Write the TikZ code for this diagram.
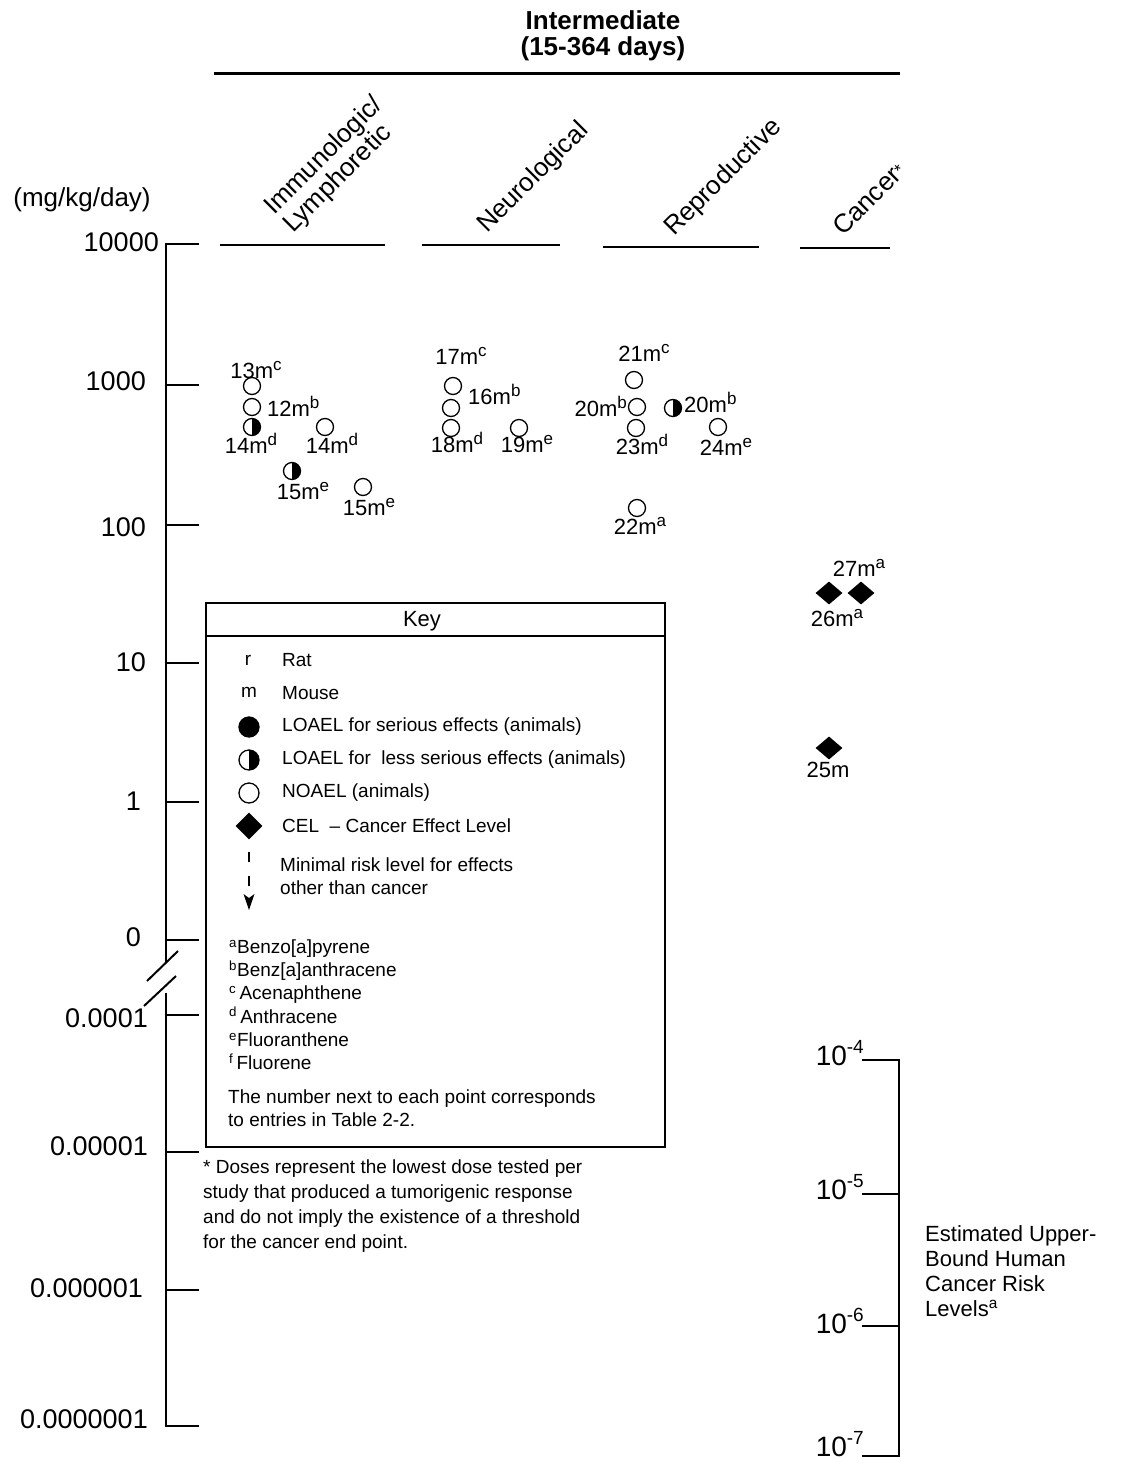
\documentclass[tikz,border=0pt]{standalone}
\usepackage{fontspec}
\setmainfont{Liberation Sans}
\usetikzlibrary{shapes.geometric}
\newcommand{\psup}[1]{\raisebox{8pt}{\fontsize{17}{17}\selectfont #1}}
\newcommand{\rsup}[1]{\raisebox{12pt}{\fontsize{19}{19}\selectfont #1}}
\begin{document}
\begin{tikzpicture}[x=1pt,y=-1pt,
  axisln/.style={line width=2.4pt},
  ticklab/.style={font=\fontsize{27}{30}\selectfont, anchor=east, inner sep=0pt},
  hdr/.style={font=\fontsize{26}{28}\selectfont, rotate=45, anchor=base west, inner sep=0pt},
  collin/.style={line width=2pt},
  ptlab/.style={font=\fontsize{22}{24}\selectfont, anchor=base, inner sep=0pt},
  noael/.style={circle, draw, fill=white, minimum size=17pt, inner sep=0pt, line width=1.3pt},
  loaelless/.style={noael, path picture={\fill[black] (path picture bounding box.south) rectangle (path picture bounding box.north east);}},
  loaelser/.style={noael, fill=black},
  cel/.style={diamond, fill=black, minimum width=27pt, minimum height=23pt, inner sep=0pt},
  keytxt/.style={font=\fontsize{19}{23}\selectfont, anchor=west, inner sep=0pt},
  risklab/.style={font=\fontsize{28}{30}\selectfont, anchor=base east, inner sep=0pt}
]
\useasboundingbox (0,0) rectangle (1137,1459);

% ---- title
\node[font=\bfseries\fontsize{26}{26}\selectfont, align=center] (title) at (603,36) {Intermediate\\(15-364 days)};
\coordinate (tl) at (214,73);
\coordinate (tr) at (900,73);
\draw[line width=3pt] (tl) -- (tr);

% ---- column headers
\node[hdr] (hImm1) at (274,216) {Immunologic/};
\node[hdr] (hImm2) at (293,234) {Lymphoretic};
\node[hdr] (hNeu) at (487,234) {Neurological};
\node[hdr] (hRep) at (674,237) {Reproductive};
\node[hdr] (hCan) at (843,237) {Cancer\raisebox{2pt}{\fontsize{17}{17}\selectfont *}};
\draw[collin] (220,245) -- (385,245);
\draw[collin] (422,245) -- (560,245);
\draw[collin] (603,247) -- (759,247);
\draw[collin] (800,248) -- (890,248);

% ---- left axis
\node[font=\fontsize{26}{30}\selectfont] (unit) at (82,200) {(mg/kg/day)};
\coordinate (axT) at (166,244);
\coordinate (axG1) at (166,962);
\coordinate (axG2) at (166,993);
\coordinate (axB) at (166,1426);
\draw[axisln] (axT) -- (axG1);
\draw[axisln] (axG2) -- (axB);
\foreach \yy in {244,385,525,663,802,940,1015,1152,1290,1426}
  \draw[axisln] (165,\yy) -- (199,\yy);
\draw[line width=2pt] (147,981) -- (178,951);
\draw[line width=2pt] (144,1006) -- (176,976);
\node[ticklab] (t1) at (159,242) {10000};
\node[ticklab] (t2) at (146,381) {1000};
\node[ticklab] (t3) at (146,527) {100};
\node[ticklab] (t4) at (146,662) {10};
\node[ticklab] (t5) at (141,801) {1};
\node[ticklab] (t6) at (141,937) {0};
\node[ticklab] (t7) at (148,1018) {0.0001};
\node[ticklab] (t8) at (148,1146) {0.00001};
\node[ticklab] (t9) at (143,1288) {0.000001};
\node[ticklab] (t10) at (148,1419) {0.0000001};

% ---- immunologic points
\node[noael] (c13) at (252,386) {};
\node[noael] (c12) at (252,407) {};
\node[loaelless] (h14) at (252,427) {};
\node[noael] (c14) at (325,427) {};
\node[loaelless] (h15) at (292,471) {};
\node[noael] (c15) at (363,487) {};
\node[ptlab] (l13) at (256,378) {13m\psup{c}};
\node[ptlab, anchor=base west] (l12) at (267,416) {12m\psup{b}};
\node[ptlab] (l14a) at (251,453) {14m\psup{d}};
\node[ptlab] (l14b) at (332,453) {14m\psup{d}};
\node[ptlab] (l15a) at (303,499) {15m\psup{e}};
\node[ptlab] (l15b) at (369,515) {15m\psup{e}};

% ---- neurological points
\node[noael] (c17) at (453,386) {};
\node[noael] (c16) at (451,408) {};
\node[noael] (c18) at (451,428) {};
\node[noael] (c19) at (519,428) {};
\node[ptlab] (l17) at (461,364) {17m\psup{c}};
\node[ptlab, anchor=base west] (l16) at (468,404) {16m\psup{b}};
\node[ptlab] (l18) at (457,452) {18m\psup{d}};
\node[ptlab] (l19) at (527,452) {19m\psup{e}};

% ---- reproductive points
\node[noael] (c21) at (634,380) {};
\node[noael] (c20) at (637,407) {};
\node[noael] (c23) at (636,428) {};
\node[loaelless] (h20) at (673,408) {};
\node[noael] (c24) at (718,427) {};
\node[noael] (c22) at (637,508) {};
\node[ptlab] (l21) at (644,361) {21m\psup{c}};
\node[ptlab, anchor=base east] (l20a) at (627,416) {20m\psup{b}};
\node[ptlab] (l23) at (642,454) {23m\psup{d}};
\node[ptlab, anchor=base west] (l20b) at (684,412) {20m\psup{b}};
\node[ptlab] (l24) at (726,455) {24m\psup{e}};
\node[ptlab] (l22) at (640,534) {22m\psup{a}};

% ---- cancer points
\node[cel] (d26) at (829,593) {};
\node[cel] (d27) at (861,593) {};
\node[cel] (d25) at (829,748) {};
\node[ptlab] (l27) at (859,576) {27m\psup{a}};
\node[ptlab] (l26) at (837,626) {26m\psup{a}};
\node[ptlab] (l25) at (828,777) {25m};

% ---- key box
\coordinate (kTL) at (206,603);
\coordinate (kBR) at (665,1147);
\draw[line width=2pt] (kTL) rectangle (kBR);
\coordinate (kHL) at (206,636);
\coordinate (kHR) at (665,636);
\draw[line width=1.6pt] (kHL) -- (kHR);
\node[font=\fontsize{22}{24}\selectfont] (keyhdr) at (422,621) {Key};
\node[keytxt, anchor=center] (kr) at (248,660) {r};
\node[keytxt] (krt) at (282,660) {Rat};
\node[keytxt, anchor=center] (km) at (249,692) {m};
\node[keytxt] (kmt) at (282,693) {Mouse};
\node[loaelser, minimum size=20pt] (ks1) at (249,727) {};
\node[keytxt] (kt1) at (282,727) {LOAEL for serious effects (animals)};
\node[loaelless, minimum size=20pt] (ks2) at (249,760) {};
\node[keytxt] (kt2) at (282,760) {LOAEL for\ \ less serious effects (animals)};
\node[noael, minimum size=20pt] (ks3) at (249,793) {};
\node[keytxt] (kt3) at (282,793) {NOAEL (animals)};
\node[cel, minimum width=27pt, minimum height=27pt] (ks4) at (249,826) {};
\node[keytxt] (kt4) at (282,826) {CEL\ \ -- Cancer Effect Level};
\coordinate (ka1) at (249,852);
\coordinate (ka2) at (249,862);
\coordinate (ka3) at (249,876);
\coordinate (ka4) at (249,886);
\draw[line width=1.2pt] (ka1) -- (ka2);
\draw[line width=1.2pt] (ka3) -- (ka4);
\fill (243.5,894) -- (249,898) -- (254.5,894) -- (249,910) -- cycle;
\node[keytxt, align=left, anchor=west] (kt5) at (280,876) {Minimal risk level for effects\\other than cancer};
\node[keytxt, align=left, anchor=north west, font=\fontsize{19}{23.2}\selectfont] (kfn) at (229,939.5)
 {\textsuperscript{a}Benzo[a]pyrene\\
  \textsuperscript{b}Benz[a]anthracene\\
  \textsuperscript{c}\,Acenaphthene\\
  \textsuperscript{d}\,Anthracene\\
  \textsuperscript{e}Fluoranthene\\
  \textsuperscript{f}\,Fluorene};
\node[keytxt, align=left, anchor=west] (knum) at (228,1108) {The number next to each point corresponds\\to entries in Table 2-2.};
\node[keytxt, align=left, anchor=west, font=\fontsize{19}{25}\selectfont] (dose) at (203,1206)
 {* Doses represent the lowest dose tested per\\
  study that produced a tumorigenic response\\
  and do not imply the existence of a threshold\\
  for the cancer end point.};

% ---- risk scale
\coordinate (rT) at (899,1060);
\coordinate (rB) at (899,1456);
\draw[axisln] (rT) -- (rB);
\foreach \yy in {1060,1194,1326,1456}
  \draw[axisln] (862,\yy) -- (900,\yy);
\node[risklab] (r4) at (864,1065) {10\rsup{-4}};
\node[risklab] (r5) at (864,1199) {10\rsup{-5}};
\node[risklab] (r6) at (864,1333) {10\rsup{-6}};
\node[risklab] (r7) at (864,1456) {10\rsup{-7}};
\node[font=\fontsize{22}{25}\selectfont, align=left, anchor=west, inner sep=0pt] (risk) at (925,1271)
 {Estimated Upper-\\Bound Human\\Cancer Risk\\Levels\textsuperscript{a}};
\end{tikzpicture}
\end{document}
